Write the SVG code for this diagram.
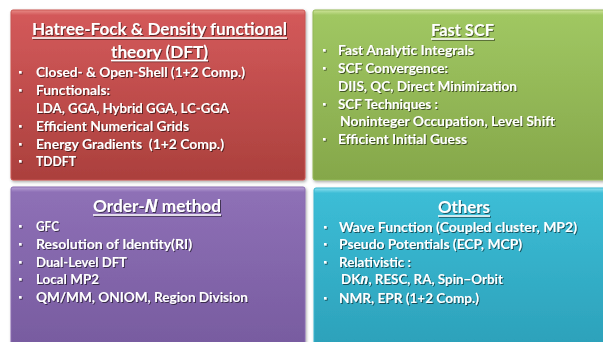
<svg xmlns="http://www.w3.org/2000/svg" width="603" height="342" viewBox="0 0 603 342">
  <defs>
    <linearGradient id="gRed" x1="0" y1="0" x2="0" y2="1">
      <stop offset="0" stop-color="#e88a86"/>
      <stop offset="0.03" stop-color="#d3595a"/>
      <stop offset="1" stop-color="#ab403d"/>
    </linearGradient>
    <linearGradient id="gGreen" x1="0" y1="0" x2="0" y2="1">
      <stop offset="0" stop-color="#cfe49a"/>
      <stop offset="0.03" stop-color="#a0c762"/>
      <stop offset="1" stop-color="#85a74a"/>
    </linearGradient>
    <linearGradient id="gPurple" x1="0" y1="0" x2="0" y2="1">
      <stop offset="0" stop-color="#b9a2d6"/>
      <stop offset="0.03" stop-color="#8e70b6"/>
      <stop offset="1" stop-color="#765a9e"/>
    </linearGradient>
    <linearGradient id="gCyan" x1="0" y1="0" x2="0" y2="1">
      <stop offset="0" stop-color="#8ee0ef"/>
      <stop offset="0.03" stop-color="#3cbdd6"/>
      <stop offset="1" stop-color="#2b9fb8"/>
    </linearGradient>
    <filter id="panelShadow" x="-5%" y="-5%" width="110%" height="110%">
      <feDropShadow dx="1" dy="1.5" stdDeviation="1.5" flood-color="#000" flood-opacity="0.35"/>
    </filter>
    <filter id="textShadow" x="-5%" y="-30%" width="110%" height="160%">
      <feDropShadow dx="1" dy="1" stdDeviation="0.7" flood-color="#000" flood-opacity="0.55"/>
    </filter>
  </defs>
  <style>
    .panel { stroke-width: 1; }
    .title { font-family: Lato, "Open Sans", "Liberation Sans", sans-serif; font-weight: 700; font-size: 17px; fill: #ffffff; }
    .item { font-family: Lato, "Open Sans", "Liberation Sans", sans-serif; font-weight: 700; font-size: 13.5px; fill: #ffffff; }
    .it { font-family: "Open Sans", "Liberation Sans", sans-serif; font-style: italic; }
    .uline { stroke: #ffffff; stroke-width: 1.3; }
    .bullet { fill: #ffffff; }
    .txt { filter: url(#textShadow); }
  </style>

  <rect width="603" height="342" fill="#ffffff"/>

  <!-- Hartree-Fock / DFT panel -->
  <g id="panel-hf-dft">
    <rect class="panel" x="11" y="10" width="294" height="170" rx="2" fill="url(#gRed)" stroke="#c85450" filter="url(#panelShadow)"/>
    <g class="txt">
      <text class="title" x="32" y="35" textLength="255" lengthAdjust="spacingAndGlyphs">Hatree-Fock &amp; Density functional</text>
      <line class="uline" x1="32" y1="38" x2="287" y2="38"/>
      <text class="title" x="111" y="57.5" textLength="97" lengthAdjust="spacingAndGlyphs">theory (DFT)</text>
      <line class="uline" x1="111" y1="60.5" x2="208" y2="60.5"/>
      <rect class="bullet" x="19" y="71" width="2.6" height="2.6"/>
      <text class="item" x="36" y="77" textLength="209" lengthAdjust="spacingAndGlyphs">Closed- &amp; Open-Shell (1+2 Comp.)</text>
      <rect class="bullet" x="19" y="89" width="2.6" height="2.6"/>
      <text class="item" x="36" y="95" textLength="74" lengthAdjust="spacingAndGlyphs">Functionals:</text>
      <text class="item" x="36" y="113" textLength="193" lengthAdjust="spacingAndGlyphs">LDA, GGA, Hybrid GGA, LC-GGA</text>
      <rect class="bullet" x="19" y="125" width="2.6" height="2.6"/>
      <text class="item" x="36" y="131" textLength="153" lengthAdjust="spacingAndGlyphs">Efficient Numerical Grids</text>
      <rect class="bullet" x="19" y="143" width="2.6" height="2.6"/>
      <text class="item" x="36" y="149" textLength="188" lengthAdjust="spacingAndGlyphs" xml:space="preserve">Energy Gradients  (1+2 Comp.)</text>
      <rect class="bullet" x="19" y="160" width="2.6" height="2.6"/>
      <text class="item" x="36" y="166" textLength="40" lengthAdjust="spacingAndGlyphs">TDDFT</text>
    </g>
  </g>

  <!-- Fast SCF panel -->
  <g id="panel-fast-scf">
    <rect class="panel" x="313" y="10" width="300" height="170" rx="2" fill="url(#gGreen)" stroke="#93b858" filter="url(#panelShadow)"/>
    <g class="txt">
      <text class="title" x="431" y="36" textLength="63" lengthAdjust="spacingAndGlyphs">Fast SCF</text>
      <line class="uline" x1="431" y1="39" x2="494" y2="39"/>
      <rect class="bullet" x="323" y="49" width="2.6" height="2.6"/>
      <text class="item" x="338" y="55" textLength="136" lengthAdjust="spacingAndGlyphs">Fast Analytic Integrals</text>
      <rect class="bullet" x="323" y="67" width="2.6" height="2.6"/>
      <text class="item" x="338" y="73" textLength="110" lengthAdjust="spacingAndGlyphs">SCF Convergence:</text>
      <text class="item" x="338" y="91" textLength="179" lengthAdjust="spacingAndGlyphs">DIIS, QC, Direct Minimization</text>
      <rect class="bullet" x="323" y="103" width="2.6" height="2.6"/>
      <text class="item" x="338" y="109" textLength="100" lengthAdjust="spacingAndGlyphs" xml:space="preserve">SCF Techniques :</text>
      <text class="item" x="340" y="126" textLength="215" lengthAdjust="spacingAndGlyphs">Noninteger Occupation, Level Shift</text>
      <rect class="bullet" x="323" y="138" width="2.6" height="2.6"/>
      <text class="item" x="338" y="144" textLength="129" lengthAdjust="spacingAndGlyphs">Efficient Initial Guess</text>
    </g>
  </g>

  <!-- Order-N panel -->
  <g id="panel-order-n">
    <rect class="panel" x="11" y="187" width="294" height="170" rx="2" fill="url(#gPurple)" stroke="#8a6cb0" filter="url(#panelShadow)"/>
    <g class="txt">
      <text class="title" x="93" y="212" textLength="128" lengthAdjust="spacingAndGlyphs">Order-<tspan class="it">N</tspan> method</text>
      <line class="uline" x1="93" y1="215" x2="221" y2="215"/>
      <rect class="bullet" x="19" y="225" width="2.6" height="2.6"/>
      <text class="item" x="36" y="231" textLength="23" lengthAdjust="spacingAndGlyphs">GFC</text>
      <rect class="bullet" x="19" y="243" width="2.6" height="2.6"/>
      <text class="item" x="36" y="249" textLength="156" lengthAdjust="spacingAndGlyphs">Resolution of Identity(RI)</text>
      <rect class="bullet" x="19" y="261" width="2.6" height="2.6"/>
      <text class="item" x="36" y="267" textLength="91" lengthAdjust="spacingAndGlyphs">Dual-Level DFT</text>
      <rect class="bullet" x="19" y="278" width="2.6" height="2.6"/>
      <text class="item" x="36" y="284" textLength="63" lengthAdjust="spacingAndGlyphs">Local MP2</text>
      <rect class="bullet" x="19" y="296" width="2.6" height="2.6"/>
      <text class="item" x="36" y="302" textLength="212" lengthAdjust="spacingAndGlyphs">QM/MM, ONIOM, Region Division</text>
    </g>
  </g>

  <!-- Others panel -->
  <g id="panel-others">
    <rect class="panel" x="314" y="188" width="300" height="170" rx="2" fill="url(#gCyan)" stroke="#3ab6cf" filter="url(#panelShadow)"/>
    <g class="txt">
      <text class="title" x="438" y="213" textLength="52" lengthAdjust="spacingAndGlyphs">Others</text>
      <line class="uline" x1="438" y1="216" x2="490" y2="216"/>
      <rect class="bullet" x="324" y="226" width="2.6" height="2.6"/>
      <text class="item" x="339" y="232" textLength="238" lengthAdjust="spacingAndGlyphs">Wave Function (Coupled cluster, MP2)</text>
      <rect class="bullet" x="324" y="243" width="2.6" height="2.6"/>
      <text class="item" x="339" y="249" textLength="183" lengthAdjust="spacingAndGlyphs">Pseudo Potentials (ECP, MCP)</text>
      <rect class="bullet" x="324" y="261" width="2.6" height="2.6"/>
      <text class="item" x="339" y="267" textLength="72" lengthAdjust="spacingAndGlyphs" xml:space="preserve">Relativistic :</text>
      <text class="item" x="341" y="284" textLength="162" lengthAdjust="spacingAndGlyphs">DK<tspan class="it">n</tspan>, RESC, RA, Spin−Orbit</text>
      <rect class="bullet" x="324" y="297" width="2.6" height="2.6"/>
      <text class="item" x="339" y="303" textLength="140" lengthAdjust="spacingAndGlyphs">NMR, EPR (1+2 Comp.)</text>
    </g>
  </g>
</svg>
